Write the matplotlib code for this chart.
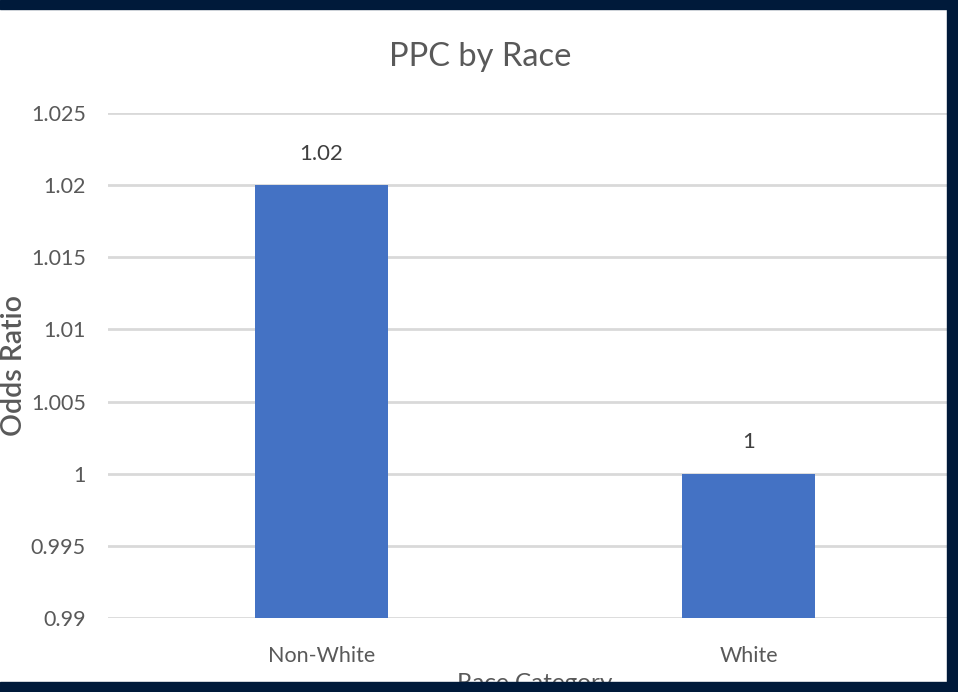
import matplotlib
matplotlib.use("Agg")
import matplotlib.pyplot as plt
from matplotlib.patches import Rectangle
import numpy as np

categories = ["Non-White", "White"]
odds_ratio = [1.02, 1.0]
value_labels = ["1.02", "1"]
y_ticks = [0.99, 0.995, 1.0, 1.005, 1.01, 1.015, 1.02, 1.025]
y_tick_labels = ["0.99", "0.995", "1", "1.005", "1.01", "1.015", "1.02", "1.025"]

BAR_COLOR = "#4472C4"
GRID_COLOR = "#D9D9D9"
TEXT_COLOR = "#595959"
NAVY = "#001A3A"
W, H = 958, 692

plt.rcParams["font.family"] = ["Lato", "DejaVu Sans"]

fig = plt.figure(figsize=(W / 100, H / 100), dpi=100)
fig.patch.set_facecolor("white")

ax_w = (962 - 108) / W
ax_h = (618 - 113) / H
ax = fig.add_axes([108 / W, (H - 618) / H, ax_w, ax_h])
base = y_ticks[0]
x = np.arange(len(categories))
heights = [v - base for v in odds_ratio]
ax.bar(x, heights, bottom=base, width=0.31, color=BAR_COLOR, zorder=3)

for xi, v, lab in zip(x, odds_ratio, value_labels):
    ax.annotate(lab, (xi, v), xytext=(0, 22.5), textcoords="offset points",
                ha="center", va="center", fontsize=16, color="#404040")

ax.set_xlim(-0.5, 1.5)
ax.set_ylim(y_ticks[0], y_ticks[-1])
ax.set_yticks(y_ticks)
ax.set_yticklabels(y_tick_labels)
ax.set_xticks(x)
ax.set_xticklabels(categories)
ax.tick_params(axis="both", length=0, labelsize=15.5, colors=TEXT_COLOR)
ax.tick_params(axis="y", pad=16)
ax.tick_params(axis="x", pad=20)
ax.grid(axis="y", color=GRID_COLOR, linewidth=2, zorder=0)
for s in ax.spines.values():
    s.set_visible(False)

ax.set_ylabel("Odds Ratio", fontsize=20.5, color=TEXT_COLOR, fontweight="semibold")
ax.yaxis.set_label_coords((14 - 108) / (962 - 108), 0.5)
ax.yaxis.label.set_va("center")
ax.set_xlabel("Race Category", fontsize=17.5, color=TEXT_COLOR)
ax.xaxis.set_label_coords(0.5, -(684 - 618) / (618 - 113))
ax.xaxis.label.set_va("center")

fig.text(480 / W, (H - 57) / H, "PPC by Race", ha="center", va="center",
         fontsize=23.5, color=TEXT_COLOR)

# dark frame around the slide
fig.patches.append(Rectangle((0, (H - 9) / H), 1, 9 / H, transform=fig.transFigure,
                             color=NAVY, zorder=10))
fig.patches.append(Rectangle((0, 0), 1, 10 / H, transform=fig.transFigure,
                             color=NAVY, zorder=10))
fig.patches.append(Rectangle((947 / W, 0), 11 / W, 1, transform=fig.transFigure,
                             color=NAVY, zorder=10))

fig.savefig("out.png", dpi=100)
